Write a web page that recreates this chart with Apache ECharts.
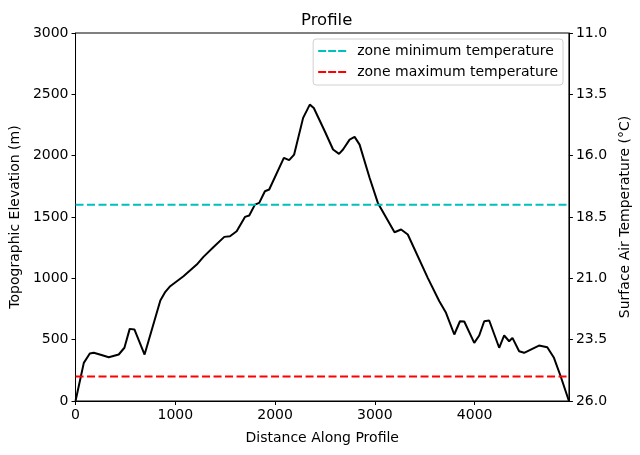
<!DOCTYPE html>
<html><head><meta charset="utf-8">
<script src="https://cdn.jsdelivr.net/npm/echarts@6/dist/echarts.min.js"></script>
<style>html,body{margin:0;padding:0;background:#fff}#c{width:640px;height:455px}</style>
</head><body><div id="c"></div>
<script>
const distance = [0, 83, 143, 183, 260, 333, 433, 490, 543, 590, 692, 850, 900, 949, 1082, 1215, 1282, 1381, 1491, 1548, 1615, 1698, 1741, 1798, 1841, 1898, 1941, 2088, 2141, 2191, 2281, 2348, 2388, 2498, 2581, 2641, 2681, 2747, 2797, 2847, 2947, 3030, 3197, 3263, 3330, 3530, 3646, 3713, 3796, 3853, 3896, 3996, 4046, 4096, 4146, 4246, 4296, 4346, 4379, 4446, 4496, 4645, 4728, 4795, 4862, 4945];
const elevation = [0, 311, 387, 393, 375, 357, 379, 434, 588, 583, 379, 820, 890, 936, 1017, 1112, 1175, 1253, 1338, 1343, 1384, 1501, 1512, 1601, 1615, 1710, 1724, 1982, 1963, 2009, 2308, 2416, 2389, 2199, 2050, 2015, 2050, 2131, 2153, 2090, 1820, 1615, 1376, 1398, 1357, 1004, 813, 719, 542, 650, 648, 474, 534, 650, 656, 434, 534, 487, 515, 406, 393, 452, 438, 352, 202, 0];
const zoneMinTemp = 18;
const zoneMaxTemp = 25;
const seriesNames = ['zone minimum temperature', 'zone maximum temperature'];
const xMax = 4945;

const font = 'DejaVu Sans';
const fs = 14;
const chart = echarts.init(document.getElementById('c'), null, {renderer: 'canvas'});
const axisCommon = {
  axisLine: {show: true, lineStyle: {color: '#000', width: 1}},
  axisTick: {show: true, inside: false, length: 4, lineStyle: {color: '#000'}},
  splitLine: {show: false},
  axisLabel: {color: '#000', fontFamily: font, fontSize: fs},
  nameTextStyle: {color: '#000', fontFamily: font, fontSize: fs}
};
const pairs = distance.map((d, i) => [d, elevation[i]]);
const dashIcon = 'path://M0,0h8v2h-8z M10,0h8v2h-8z M20,0h8v2h-8z';
chart.setOption({
  animation: false,
  backgroundColor: '#fff',
  title: {text: 'Profile', left: 296, top: 7,
    textStyle: {fontFamily: font, fontSize: 16.5, fontWeight: 'normal', color: '#000'}},
  grid: {left: 74, right: 70, top: 33, bottom: 54, show: true, borderColor: '#000', borderWidth: 1, containLabel: false},
  legend: {
    data: seriesNames.map(n => ({name: n, icon: dashIcon})), orient: 'vertical', right: 77, top: 39,
    itemWidth: 28, itemHeight: 2, itemGap: 5,
    padding: [4, 5, 5, 5],
    borderColor: '#d0d0d0', borderWidth: 1, borderRadius: 3, backgroundColor: 'rgba(255,255,255,0.8)',
    textStyle: {fontFamily: font, fontSize: fs, color: '#000', padding: [0, 0, 0, 6], lineHeight: 16}
  },
  xAxis: Object.assign({}, axisCommon, {
    type: 'value', min: 0, max: xMax, interval: 1000,
    name: 'Distance Along Profile', nameLocation: 'middle', nameGap: 30,
    axisLabel: Object.assign({}, axisCommon.axisLabel, {showMaxLabel: false, margin: 7,
      formatter: v => (v % 1000 === 0 ? String(v) : '')})
  }),
  yAxis: [
    Object.assign({}, axisCommon, {
      type: 'value', min: 0, max: 3000, interval: 500,
      name: 'Topographic Elevation (m)', nameLocation: 'middle', nameGap: 48, nameRotate: 90,
      axisLabel: Object.assign({}, axisCommon.axisLabel, {margin: 7, formatter: v => String(v)})
    }),
    Object.assign({}, axisCommon, {
      type: 'value', min: 11, max: 26, interval: 2.5, inverse: true, position: 'right',
      name: 'Surface Air Temperature (°C)', nameLocation: 'middle', nameGap: 44, nameRotate: 90,
      axisLabel: Object.assign({}, axisCommon.axisLabel, {margin: 7, formatter: v => v.toFixed(1)})
    })
  ],
  series: [
    {type: 'line', name: 'profile', data: pairs, yAxisIndex: 0, showSymbol: false, symbol: 'none',
      lineStyle: {color: '#000', width: 2}, itemStyle: {color: '#000'}, z: 3},
    {type: 'line', name: seriesNames[0], yAxisIndex: 1, symbol: 'none',
      data: [[0, zoneMinTemp], [xMax, zoneMinTemp]],
      lineStyle: {color: '#00bfbf', width: 2, type: [8, 3.5]}, itemStyle: {color: '#00bfbf'}},
    {type: 'line', name: seriesNames[1], yAxisIndex: 1, symbol: 'none',
      data: [[0, zoneMaxTemp], [xMax, zoneMaxTemp]],
      lineStyle: {color: '#ff0000', width: 2, type: [8, 3.5]}, itemStyle: {color: '#ff0000'}}
  ]
});
</script></body></html>
